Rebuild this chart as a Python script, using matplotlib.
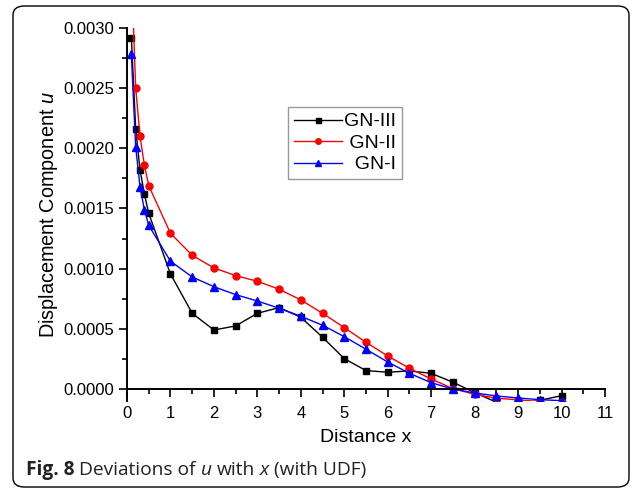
import matplotlib
matplotlib.use('Agg')
import matplotlib.pyplot as plt
from matplotlib.ticker import MultipleLocator, FormatStrFormatter
from matplotlib.patches import FancyBboxPatch
from matplotlib.offsetbox import TextArea, HPacker, AnchoredOffsetbox

plt.rcParams['font.family'] = ['Liberation Sans', 'DejaVu Sans']
plt.rcParams['mathtext.fontset'] = 'custom'
plt.rcParams['mathtext.it'] = 'Liberation Sans:italic'
plt.rcParams['mathtext.rm'] = 'Liberation Sans'

# distance x values shared by all three curves
x = [0.1, 0.2, 0.3, 0.4, 0.5, 1.0, 1.5, 2.0, 2.5, 3.0, 3.5, 4.0, 4.5,
     5.0, 5.5, 6.0, 6.5, 7.0, 7.5, 8.0, 8.5, 9.0, 9.5, 10.0]

# displacement u
gn3 = [0.00292, 0.00216, 0.00182, 0.00162, 0.00146, 0.000956, 0.000629, 0.000490,
       0.000524, 0.000629, 0.000676, 0.000596, 0.000430, 0.000252, 0.000153, 0.000139,
       0.000150, 0.000130, 0.000056, -0.000030, -0.000110, -0.000127, -0.000094, -0.000056]
gn2 = [0.00350, 0.00250, 0.00210, 0.00186, 0.00169, 0.001294, 0.001111, 0.001006,
       0.000942, 0.000895, 0.000829, 0.000740, 0.000629, 0.000510, 0.000388, 0.000274,
       0.000172, 0.000083, 0.000003, -0.000044, -0.000077, -0.000090, -0.000105, -0.000110]
gn1 = [0.00278, 0.00201, 0.00168, 0.00149, 0.00136, 0.001062, 0.000931, 0.000850,
       0.000784, 0.000731, 0.000671, 0.000604, 0.000530, 0.000435, 0.000330, 0.000224,
       0.000130, 0.000052, 0.000000, -0.000033, -0.000058, -0.000075, -0.000089, -0.000097]

W, H = 637, 493
fig = plt.figure(figsize=(W / 100, H / 100), dpi=100)

# rounded frame around the whole figure
frame = FancyBboxPatch((13 / W, 6 / H), (629 - 13) / W, (487 - 6) / H,
                       boxstyle='round,pad=0,rounding_size=0.018',
                       transform=fig.transFigure, fill=False,
                       edgecolor='black', linewidth=1.0)
fig.add_artist(frame)

ax = fig.add_axes([127 / W, (H - 401) / H, (605 - 127) / W, (401 - 28) / H])

ax.plot(x, gn3, color='black', marker='s', markersize=4.5, linewidth=1.0, label='GN-III')
ax.plot(x, gn2, color='red', marker='o', markersize=5, linewidth=1.0, label=' GN-II')
ax.plot(x, gn1, color='blue', marker='^', markersize=5.5, linewidth=1.0, label='  GN-I')

ax.set_xlim(0, 11)
ax.set_ylim(-0.0001, 0.0030)
ax.spines['bottom'].set_position(('data', 0))
ax.spines['top'].set_visible(False)
ax.spines['right'].set_visible(False)
for s in ['left', 'bottom']:
    ax.spines[s].set_linewidth(1.4)

ax.xaxis.set_major_locator(MultipleLocator(1))
ax.xaxis.set_minor_locator(MultipleLocator(0.5))
ax.set_yticks([0, 0.0005, 0.0010, 0.0015, 0.0020, 0.0025, 0.0030])
ax.yaxis.set_minor_locator(MultipleLocator(0.00025))
ax.yaxis.set_major_formatter(FormatStrFormatter('%.4f'))
ax.tick_params(which='major', direction='out', length=6, width=1.2, labelsize=12)
ax.tick_params(which='minor', direction='out', length=3.5, width=1.2)
ax.tick_params(axis='x', pad=6)

ax.set_xlabel('Distance x', fontsize=14, labelpad=6)
ax.set_ylabel('Displacement Component $\\mathit{u}$', fontsize=14.3, labelpad=2)

leg = ax.legend(loc='upper left', bbox_to_anchor=((288 - 127) / (605 - 127), (401 - 107) / (401 - 28)),
                fontsize=14, frameon=True, fancybox=False, handlelength=2.5, markerscale=0.8,
                borderpad=0.3, labelspacing=0.2, handletextpad=0.1, borderaxespad=0)
leg.get_frame().set_edgecolor('#808080')
leg.get_frame().set_linewidth(1.0)

# caption with mixed bold / italic pieces
cap = dict(family='Open Sans', size=13.8, color='#222222')
parts = [TextArea('Fig. 8', textprops=dict(cap, weight='bold')),
         TextArea('Deviations of', textprops=cap),
         TextArea('u', textprops=dict(cap, style='italic')),
         TextArea('with', textprops=cap),
         TextArea('x', textprops=dict(cap, style='italic')),
         TextArea('(with UDF)', textprops=cap)]
row = HPacker(children=parts, align='baseline', pad=0, sep=3.5)
box = AnchoredOffsetbox(loc='center left', child=row, pad=0, borderpad=0, frameon=False,
                        bbox_to_anchor=(26 / W, (H - 470) / H), bbox_transform=fig.transFigure)
fig.add_artist(box)

fig.savefig('out.png', dpi=100)
